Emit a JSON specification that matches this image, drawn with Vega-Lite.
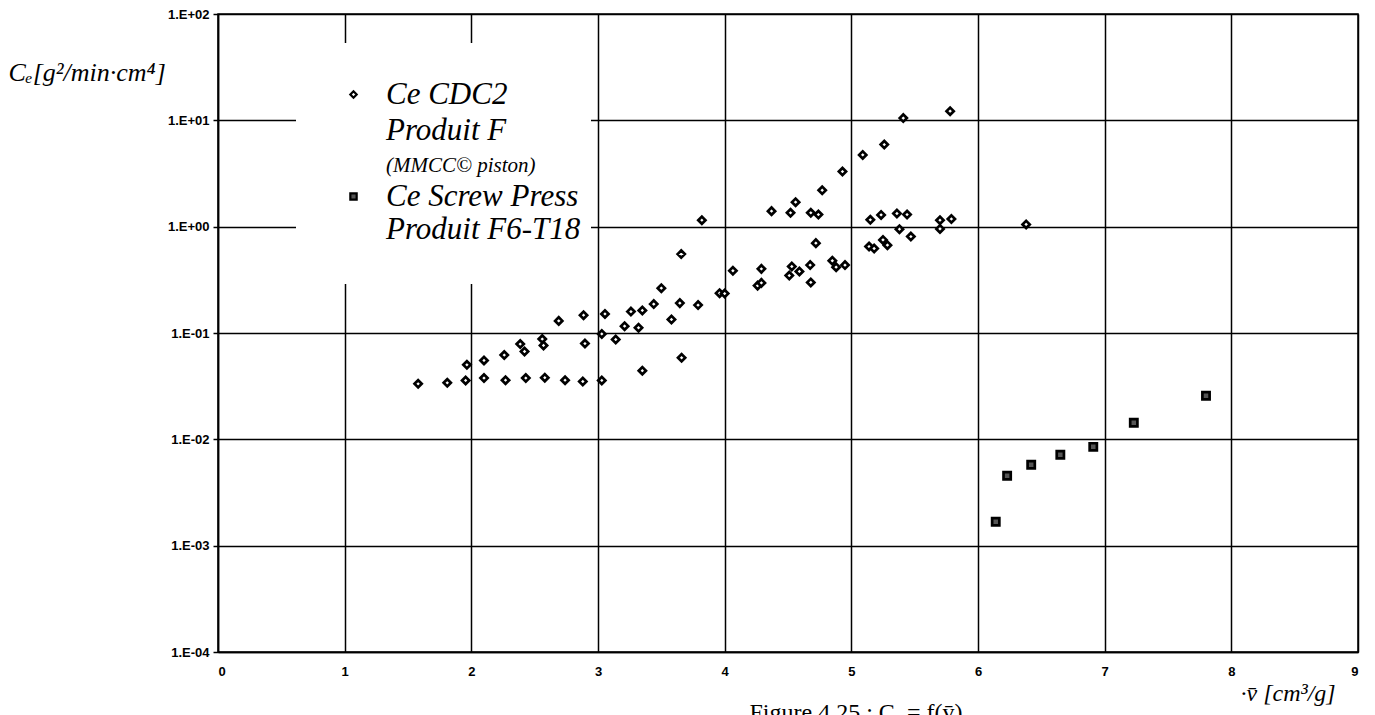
{
  "$schema": "https://vega.github.io/schema/vega-lite/v6.json",
  "width": 1140,
  "height": 638,
  "autosize": {"type": "none"},
  "padding": {"left": 218, "top": 14, "right": 17, "bottom": 63},
  "background": "white",
  "title": {
    "text": "Figure 4.25 : Cₑ = f(v̄)",
    "orient": "bottom",
    "anchor": "middle",
    "font": "Liberation Serif",
    "fontSize": 24,
    "fontWeight": "normal",
    "color": "#000",
    "dx": 68,
    "offset": 0,
    "dy": -4
  },
  "config": {
    "view": {"stroke": "#000", "strokeWidth": 1.5},
    "axis": {
      "gridColor": "#000",
      "gridOpacity": 1,
      "gridWidth": 1.5,
      "domainColor": "#000",
      "domainWidth": 1.5,
      "tickColor": "#000",
      "labelColor": "#000",
      "labelFont": "Liberation Sans",
      "labelFontWeight": "bold",
      "labelFontSize": 13,
      "titleColor": "#000",
      "titleFont": "Liberation Serif",
      "titleFontStyle": "italic",
      "titleFontWeight": "normal"
    },
    "legend": {
      "title": null,
      "orient": "none",
      "legendX": 120,
      "legendY": 65,
      "padding": 0,
      "symbolSize": 40,
      "symbolStrokeWidth": 2.2,
      "labelOffset": 17,
      "labelLimit": 0,
      "labelFont": "Liberation Serif",
      "labelFontStyle": "italic",
      "labelColor": "#000",
      "rowPadding": 4
    }
  },
  "data": {
    "values": [
      {"v": 1.58, "ce": 0.0333, "s": "A"},
      {"v": 1.81, "ce": 0.034, "s": "A"},
      {"v": 1.955, "ce": 0.0358, "s": "A"},
      {"v": 1.965, "ce": 0.0502, "s": "A"},
      {"v": 2.10, "ce": 0.0377, "s": "A"},
      {"v": 2.10, "ce": 0.0552, "s": "A"},
      {"v": 2.26, "ce": 0.062, "s": "A"},
      {"v": 2.27, "ce": 0.036, "s": "A"},
      {"v": 2.386, "ce": 0.0787, "s": "A"},
      {"v": 2.42, "ce": 0.067, "s": "A"},
      {"v": 2.43, "ce": 0.0377, "s": "A"},
      {"v": 2.56, "ce": 0.0877, "s": "A"},
      {"v": 2.57, "ce": 0.0764, "s": "A"},
      {"v": 2.58, "ce": 0.038, "s": "A"},
      {"v": 2.69, "ce": 0.130, "s": "A"},
      {"v": 2.74, "ce": 0.036, "s": "A"},
      {"v": 2.886, "ce": 0.147, "s": "A"},
      {"v": 2.897, "ce": 0.0796, "s": "A"},
      {"v": 2.88, "ce": 0.035, "s": "A"},
      {"v": 3.03, "ce": 0.0358, "s": "A"},
      {"v": 3.03, "ce": 0.098, "s": "A"},
      {"v": 3.055, "ce": 0.151, "s": "A"},
      {"v": 3.14, "ce": 0.0869, "s": "A"},
      {"v": 3.21, "ce": 0.116, "s": "A"},
      {"v": 3.26, "ce": 0.159, "s": "A"},
      {"v": 3.32, "ce": 0.112, "s": "A"},
      {"v": 3.35, "ce": 0.163, "s": "A"},
      {"v": 3.35, "ce": 0.0442, "s": "A"},
      {"v": 3.44, "ce": 0.187, "s": "A"},
      {"v": 3.50, "ce": 0.264, "s": "A"},
      {"v": 3.58, "ce": 0.134, "s": "A"},
      {"v": 3.646, "ce": 0.191, "s": "A"},
      {"v": 3.657, "ce": 0.552, "s": "A"},
      {"v": 3.66, "ce": 0.0585, "s": "A"},
      {"v": 3.79, "ce": 0.183, "s": "A"},
      {"v": 3.82, "ce": 1.15, "s": "A"},
      {"v": 3.96, "ce": 0.237, "s": "A"},
      {"v": 4.00, "ce": 0.235, "s": "A"},
      {"v": 4.065, "ce": 0.385, "s": "A"},
      {"v": 4.26, "ce": 0.279, "s": "A"},
      {"v": 4.29, "ce": 0.296, "s": "A"},
      {"v": 4.29, "ce": 0.401, "s": "A"},
      {"v": 4.37, "ce": 1.4, "s": "A"},
      {"v": 4.51, "ce": 0.347, "s": "A"},
      {"v": 4.52, "ce": 1.35, "s": "A"},
      {"v": 4.53, "ce": 0.422, "s": "A"},
      {"v": 4.56, "ce": 1.7, "s": "A"},
      {"v": 4.59, "ce": 0.379, "s": "A"},
      {"v": 4.675, "ce": 0.435, "s": "A"},
      {"v": 4.68, "ce": 0.299, "s": "A"},
      {"v": 4.68, "ce": 1.35, "s": "A"},
      {"v": 4.72, "ce": 0.7, "s": "A"},
      {"v": 4.74, "ce": 1.3, "s": "A"},
      {"v": 4.77, "ce": 2.2, "s": "A"},
      {"v": 4.85, "ce": 0.478, "s": "A"},
      {"v": 4.88, "ce": 0.416, "s": "A"},
      {"v": 4.93, "ce": 3.3, "s": "A"},
      {"v": 4.95, "ce": 0.435, "s": "A"},
      {"v": 5.09, "ce": 4.73, "s": "A"},
      {"v": 5.14, "ce": 0.650, "s": "A"},
      {"v": 5.15, "ce": 1.16, "s": "A"},
      {"v": 5.18, "ce": 0.623, "s": "A"},
      {"v": 5.235, "ce": 1.29, "s": "A"},
      {"v": 5.25, "ce": 0.751, "s": "A"},
      {"v": 5.26, "ce": 5.92, "s": "A"},
      {"v": 5.285, "ce": 0.670, "s": "A"},
      {"v": 5.36, "ce": 1.33, "s": "A"},
      {"v": 5.38, "ce": 0.947, "s": "A"},
      {"v": 5.41, "ce": 10.5, "s": "A"},
      {"v": 5.44, "ce": 1.30, "s": "A"},
      {"v": 5.47, "ce": 0.807, "s": "A"},
      {"v": 5.70, "ce": 1.15, "s": "A"},
      {"v": 5.70, "ce": 0.953, "s": "A"},
      {"v": 5.78, "ce": 12.2, "s": "A"},
      {"v": 5.79, "ce": 1.18, "s": "A"},
      {"v": 6.38, "ce": 1.05, "s": "A"},
      {"v": 6.14, "ce": 0.00168, "s": "C"},
      {"v": 6.23, "ce": 0.00455, "s": "C"},
      {"v": 6.42, "ce": 0.00577, "s": "C"},
      {"v": 6.65, "ce": 0.00716, "s": "C"},
      {"v": 6.91, "ce": 0.0085, "s": "C"},
      {"v": 7.23, "ce": 0.0143, "s": "C"},
      {"v": 7.80, "ce": 0.0257, "s": "C"}
    ]
  },
  "layer": [
    {
      "mark": {"type": "rect", "fill": "white", "stroke": null},
      "encoding": {
        "x": {"datum": 0.616, "type": "quantitative"},
        "x2": {"datum": 2.944},
        "y": {"datum": 53.4, "type": "quantitative"},
        "y2": {"datum": 0.29}
      }
    },
    {
      "mark": {"type": "point", "filled": false, "strokeWidth": 2.7, "size": 52, "opacity": 1},
      "encoding": {
        "x": {
          "field": "v",
          "type": "quantitative",
          "scale": {"domain": [0, 9], "nice": false, "zero": false},
          "axis": {
            "values": [0, 1, 2, 3, 4, 5, 6, 7, 8, 9],
            "format": "d",
            "grid": true,
            "ticks": false,
            "labelPadding": 13,
            "title": "·v̄ [cm³/g]",
            "titleFontSize": 24,
            "titleAlign": "left",
            "titleBaseline": "alphabetic",
            "titleAnchor": "start",
            "titleX": 1022,
            "titleY": 48
          }
        },
        "y": {
          "field": "ce",
          "type": "quantitative",
          "scale": {"type": "log", "domain": [0.0001, 100], "nice": false},
          "axis": {
            "values": [0.0001, 0.001, 0.01, 0.1, 1, 10, 100],
            "grid": true,
            "ticks": true,
            "tickSize": 5,
            "tickWidth": 1.5,
            "labelPadding": 4,
            "labelExpr": "'1.E' + (round(log(datum.value)/LN10) >= 0 ? '+' : '-') + '0' + abs(round(log(datum.value)/LN10))",
            "title": "Cₑ[g²/min·cm⁴]",
            "titleFontSize": 26,
            "titleAngle": 0,
            "titleAlign": "left",
            "titleBaseline": "alphabetic",
            "titleX": -210,
            "titleY": 66
          }
        },
        "shape": {
          "field": "s",
          "type": "nominal",
          "scale": {"domain": ["A", "A2", "B", "C"], "range": ["diamond", "square", "square", "square"]},
          "legend": {
            "labelExpr": "datum.value === 'A' ? 'Ce CDC2' : datum.value === 'A2' ? 'Produit F' : datum.value === 'B' ? '(MMCC© piston)' : ['Ce Screw Press', 'Produit F6-T18']",
            "labelFontSize": {"expr": "datum.value === 'B' ? 21 : 31"}
          }
        },
        "fill": {
          "field": "s",
          "type": "nominal",
          "scale": {"domain": ["A", "A2", "B", "C"], "range": ["#ffffff", "#ffffff", "#ffffff", "#555555"]},
          "legend": {
            "labelExpr": "datum.value === 'A' ? 'Ce CDC2' : datum.value === 'A2' ? 'Produit F' : datum.value === 'B' ? '(MMCC© piston)' : ['Ce Screw Press', 'Produit F6-T18']",
            "labelFontSize": {"expr": "datum.value === 'B' ? 21 : 31"}
          }
        },
        "stroke": {
          "field": "s",
          "type": "nominal",
          "scale": {"domain": ["A", "A2", "B", "C"], "range": ["#000000", "#ffffff", "#ffffff", "#000000"]},
          "legend": {
            "labelExpr": "datum.value === 'A' ? 'Ce CDC2' : datum.value === 'A2' ? 'Produit F' : datum.value === 'B' ? '(MMCC© piston)' : ['Ce Screw Press', 'Produit F6-T18']",
            "labelFontSize": {"expr": "datum.value === 'B' ? 21 : 31"}
          }
        }
      }
    }
  ]
}
